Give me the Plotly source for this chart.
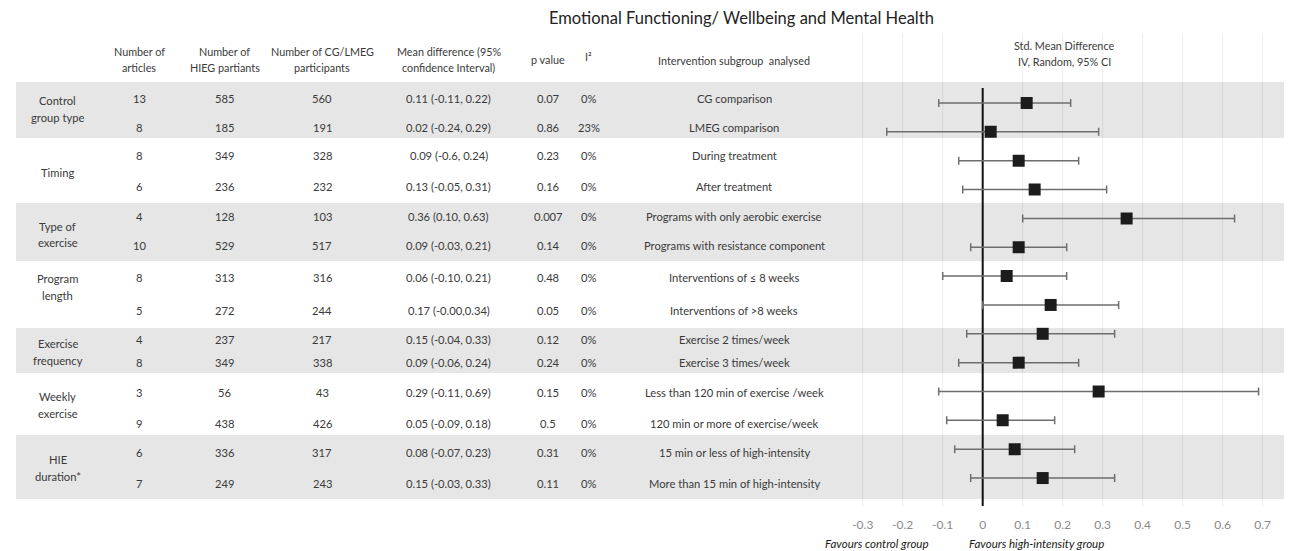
import numpy as np
import plotly.graph_objects as go

# screen size of the photographed window; the page body adds an 8 px margin
SCREEN_W, SCREEN_H = 1292, 551
OFF = 8
W, H = SCREEN_W - OFF, SCREEN_H - OFF

# ---------------- data ----------------
group_labels = [["Control", "group type"], ["Timing"], ["Type of", "exercise"], ["Program", "length"],
                ["Exercise", "frequency"], ["Weekly", "exercise"], ["HIE", "duration*"]]
n_articles = [13, 8, 8, 6, 4, 10, 8, 5, 4, 8, 3, 9, 6, 7]
n_hieg = [585, 185, 349, 236, 128, 529, 313, 272, 237, 349, 56, 438, 336, 249]
n_cg = [560, 191, 328, 232, 103, 517, 316, 244, 217, 338, 43, 426, 317, 243]
md_labels = ["0.11 (-0.11, 0.22)", "0.02 (-0.24, 0.29)", "0.09 (-0.6, 0.24)", "0.13 (-0.05, 0.31)",
             "0.36 (0.10, 0.63)", "0.09 (-0.03, 0.21)", "0.06 (-0.10, 0.21)", "0.17 (-0.00,0.34)",
             "0.15 (-0.04, 0.33)", "0.09 (-0.06, 0.24)", "0.29 (-0.11, 0.69)", "0.05 (-0.09, 0.18)",
             "0.08 (-0.07, 0.23)", "0.15 (-0.03, 0.33)"]
p_values = ["0.07", "0.86", "0.23", "0.16", "0.007", "0.14", "0.48", "0.05", "0.12", "0.24",
            "0.15", "0.5", "0.31", "0.11"]
i2_values = ["0%", "23%", "0%", "0%", "0%", "0%", "0%", "0%", "0%", "0%", "0%", "0%", "0%", "0%"]
subgroups = ["CG comparison", "LMEG comparison", "During treatment", "After treatment",
             "Programs with only aerobic exercise", "Programs with resistance component",
             "Interventions of \u2264 8 weeks", "Interventions of >8 weeks",
             "Exercise 2 times/week", "Exercise 3 times/week",
             "Less than 120 min of exercise /week", "120 min or more of exercise/week",
             "15 min or less of high-intensity", "More than 15 min of high-intensity"]
smd = [0.11, 0.02, 0.09, 0.13, 0.36, 0.09, 0.06, 0.17, 0.15, 0.09, 0.29, 0.05, 0.08, 0.15]
ci_low = [-0.11, -0.24, -0.06, -0.05, 0.10, -0.03, -0.10, 0.00, -0.04, -0.06, -0.11, -0.09, -0.07, -0.03]
ci_high = [0.22, 0.29, 0.24, 0.31, 0.63, 0.21, 0.21, 0.34, 0.33, 0.24, 0.69, 0.18, 0.23, 0.33]
tick_vals = [-0.3, -0.2, -0.1, 0, 0.1, 0.2, 0.3, 0.4, 0.5, 0.6, 0.7]
tick_text = ["-0.3", "-0.2", "-0.1", "0", "0.1", "0.2", "0.3", "0.4", "0.5", "0.6", "0.7"]

# ---------------- layout helpers (screen pixel positions) ----------------
def px(x):
    return (x - OFF) / W

def py(y):
    return 1 - (y - OFF) / H

FONT = "Lato, 'Open Sans', sans-serif"
TXT = "#3a3a3a"

rows = np.arange(len(smd))
row_text_y = [98, 127, 155, 187, 216, 245, 277, 310, 339, 362, 392, 423, 452, 483]
group_y = [[100, 117], [172], [226, 242], [278, 295], [343, 360], [396, 413], [459, 476]]
bands = [(82, 138), (203, 261), (328, 373), (435, 499)]
col_x = {"art": 133, "hieg": 219, "cg": 317, "md": 444, "p": 544, "i2": 585, "sub": 731}

plot_top_px, plot_bot_px = OFF, 506
row0_px, row_step = 103, 28.85
y_range = [(plot_bot_px - row0_px) / row_step, (plot_top_px - row0_px) / row_step]
x0_px, x_zero_px, px_per_unit = 857, 981, 402
x_range = [(x0_px - x_zero_px) / px_per_unit, (SCREEN_W - x_zero_px) / px_per_unit]

fig = go.Figure()

err_plus = [h - m for h, m in zip(ci_high, smd)]
err_minus = [m - l for m, l in zip(smd, ci_low)]
fig.add_trace(go.Scatter(
    x=smd, y=rows, mode="markers",
    marker=dict(symbol="square", size=12, color="#1c1c1c", line=dict(width=0)),
    error_x=dict(type="data", symmetric=False, array=err_plus, arrayminus=err_minus,
                 color="#6e6e6e", thickness=1.5, width=4),
    showlegend=False, hoverinfo="skip",
))

shapes = []
for (a, b) in bands:
    shapes.append(dict(type="rect", xref="paper", yref="paper", x0=px(9), x1=1,
                       y0=py(b), y1=py(a), fillcolor="#e6e6e6", line=dict(width=0), layer="below"))
for v in tick_vals:
    if v == 0:
        continue
    shapes.append(dict(type="line", xref="x", yref="paper", x0=v, x1=v, y0=py(506), y1=py(33),
                       line=dict(color="rgba(0,0,0,0.07)", width=1), layer="below"))
shapes.append(dict(type="line", xref="x", yref="paper", x0=0, x1=0, y0=py(506), y1=py(88),
                   line=dict(color="#111111", width=2), layer="below"))

ann = []
def text(x, y, s, size=11, color=TXT):
    ann.append(dict(x=px(x), y=py(y), xref="paper", yref="paper", text=s, showarrow=False,
                    xanchor="center", yanchor="middle",
                    font=dict(family=FONT, size=size, color=color)))

# title
text(738, 18, "Emotional Functioning/ Wellbeing and Mental Health", size=16.5, color="#222222")
# headers
HS = 10.8
for x, lines in [(col_x["art"], ["Number of", "articles"]),
                 (col_x["hieg"], ["Number of", "HIEG partiants"]),
                 (col_x["cg"], ["Number of CG/LMEG", "participants"]),
                 (col_x["md"], ["Mean difference (95%", "confidence Interval)"])]:
    text(x, 51, lines[0], size=HS)
    text(x, 67, lines[1], size=HS)
text(col_x["p"], 60, "p value", size=HS)
text(col_x["i2"], 57, "I\u00b2", size=HS)
text(col_x["sub"], 61, "Intervention subgroup  analysed", size=HS)
text(1063, 45, "Std. Mean Difference", size=HS)
text(1063, 62, "IV, Random, 95% CI", size=HS)

for lines, ys in zip(group_labels, group_y):
    for s, yy in zip(lines, ys):
        text(51, yy, s, size=11.2)
for i in rows:
    yy = row_text_y[i]
    text(col_x["art"], yy, str(n_articles[i]), size=11.2)
    text(col_x["hieg"], yy, str(n_hieg[i]), size=11.2)
    text(col_x["cg"], yy, str(n_cg[i]), size=11.2)
    text(col_x["md"], yy, md_labels[i], size=11.2)
    text(col_x["p"], yy, p_values[i], size=11.2)
    text(col_x["i2"], yy, i2_values[i], size=11.2)
    text(col_x["sub"], yy, subgroups[i], size=11.2)

text(875, 543, "<i>Favours control group</i>", size=11.5, color="#1a1a1a")
text(1035, 543, "<i>Favours high-intensity group</i>", size=11.5, color="#1a1a1a")

fig.update_layout(
    width=W, height=H, autosize=False,
    margin=dict(l=0, r=0, t=0, b=0),
    paper_bgcolor="white", plot_bgcolor="rgba(0,0,0,0)",
    shapes=shapes, annotations=ann,
    xaxis=dict(domain=[px(x0_px), 1], range=x_range, showgrid=False, zeroline=False,
               showline=False, tickvals=tick_vals, ticktext=tick_text,
               ticks="outside", ticklen=8, tickcolor="rgba(0,0,0,0)",
               tickfont=dict(family=FONT, size=12, color="#8a8a8a"), fixedrange=True),
    yaxis=dict(domain=[py(plot_bot_px), 1], range=y_range, visible=False, fixedrange=True),
)

fig.write_html("out.html")
